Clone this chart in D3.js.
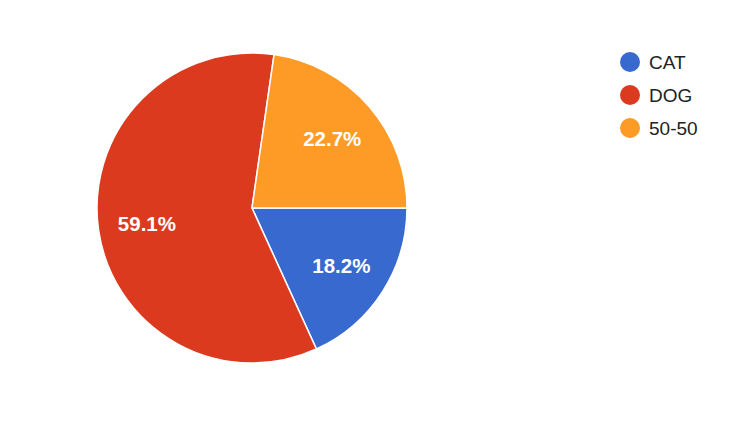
<!DOCTYPE html>
<html><head><meta charset="utf-8">
<script src="https://cdn.jsdelivr.net/npm/d3@7"></script>
<style>body{margin:0;background:#fff}svg{display:block}</style>
</head><body>
<svg id="c" width="748" height="428"></svg>
<script>
const categories = ["CAT", "DOG", "50-50"];
const values = [4, 13, 5];
const colors = ["#3869cf", "#dc3a1e", "#fe9a26"];

const svg = d3.select("#c");
const cx = 252, cy = 208, R = 155;
const total = d3.sum(values);
const pie = d3.pie().sort(null).value(d => d)
  .startAngle(Math.PI / 2).endAngle(Math.PI / 2 + 2 * Math.PI);
const arcs = pie(values);
const arc = d3.arc().innerRadius(0).outerRadius(R);
const labelArc = d3.arc().innerRadius(R * 0.685).outerRadius(R * 0.685);
const g = svg.append("g").attr("transform", `translate(${cx},${cy})`);
g.selectAll("path").data(arcs).join("path")
  .attr("d", arc).attr("fill", (d, i) => colors[i])
  .attr("stroke", "#fff").attr("stroke-width", 1.5);
g.selectAll("text").data(arcs).join("text")
  .attr("transform", d => `translate(${labelArc.centroid(d)})`)
  .attr("text-anchor", "middle").attr("dy", "0.36em")
  .attr("fill", "#fff")
  .attr("font-family", "Arial, 'Liberation Sans', sans-serif")
  .attr("font-size", 20.5).attr("font-weight", "bold")
  .text(d => (d.data / total * 100).toFixed(1) + "%");

const leg = svg.append("g").attr("transform", "translate(630,62)");
const items = leg.selectAll("g").data(categories).join("g")
  .attr("transform", (d, i) => `translate(0,${i * 33})`);
items.append("circle").attr("r", 10).attr("fill", (d, i) => colors[i]);
items.append("text").attr("x", 19).attr("dy", "0.36em")
  .attr("fill", "#222")
  .attr("font-family", "Arial, 'Liberation Sans', sans-serif")
  .attr("font-size", 19).text(d => d);
</script>
</body></html>
